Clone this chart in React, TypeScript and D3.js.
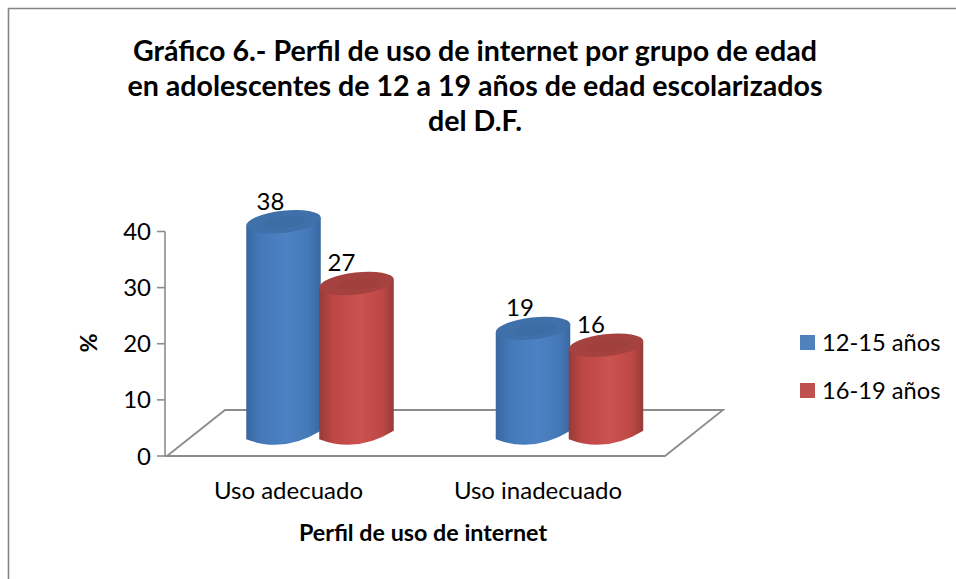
import * as d3 from 'd3';

const categories = ['Uso adecuado', 'Uso inadecuado'];
const seriesNames = ['12-15 años', '16-19 años'];
const values1215 = [38, 19];
const values1619 = [27, 16];
const yTicks = [0, 10, 20, 30, 40];
const titleLines = [
  'Gráfico 6.- Perfil de uso de internet por grupo de edad',
  'en adolescentes de 12 a 19 años de edad escolarizados',
  'del D.F.',
];

const width = 956;
const height = 579;
const font = 'Lato, Carlito, sans-serif';
const axisColor = '#8c8c8c';

const seriesColors = ['#4f81bd', '#c0504d'];
const shades = [
  { edge: '#3a689f', mid: '#4d82c4', cap: '#3f70a9', low: '#4378b8' },
  { edge: '#963b39', mid: '#cc5350', cap: '#a54240', low: '#bd4744' },
];

const y = d3.scaleLinear().domain([0, 40]).range([456, 231.5]);
// bars stand further back on the floor than the axis
const depth = 21;
const yBar = (v: number) => y(v) - depth;

const x0 = d3.scaleBand<string>().domain(categories).range([222, 721]);
const x1 = d3.scaleBand<string>().domain(seriesNames).range([25, 171]);

const floor = d3.line()([
  [167, y(0)],
  [225, y(0) - 46],
  [723, y(0) - 46],
  [665, y(0)],
  [165, y(0)],
]);

const tilt = -6.5;

function cylinderPath(cx: number, rx: number, ry: number, top: number, bottom: number) {
  const a = (tilt * Math.PI) / 180;
  const dx = rx * Math.cos(a);
  const dy = rx * Math.sin(a);
  const p = d3.path();
  p.moveTo(cx - dx, top - dy);
  p.lineTo(cx - dx, bottom - dy);
  p.quadraticCurveTo(cx, bottom + ry * 1.7, cx + dx, bottom + dy);
  p.lineTo(cx + dx, top + dy);
  p.quadraticCurveTo(cx, top + ry * 1.2, cx - dx, top - dy);
  p.closePath();
  return p.toString();
}

function Cylinder({ cx, value, s }: { cx: number; value: number; s: number }) {
  const rx = x1.bandwidth() / 2 + 1;
  const ry = 11;
  const top = yBar(value);
  const bottom = yBar(0);
  const c = shades[s];
  return (
    <g filter="url(#soft)">
      <path d={cylinderPath(cx, rx, ry, top, bottom)} fill={`url(#body${s})`} />
      <ellipse
        cx={cx}
        cy={top}
        rx={rx}
        ry={ry}
        transform={`rotate(${tilt} ${cx} ${top})`}
        fill={c.cap}
      />
      <ellipse
        cx={cx + 2}
        cy={top + 1}
        rx={rx * 0.55}
        ry={ry * 0.5}
        transform={`rotate(${tilt} ${cx} ${top})`}
        fill={c.edge}
        opacity={0.35}
      />
    </g>
  );
}

export default function App() {
  const series = [values1215, values1619];
  const labelOffsets = [-13, -15];

  return (
    <svg
      width={width}
      height={height}
      style={{ position: 'absolute', left: 0, top: 0, display: 'block' }}
      fontFamily={font}
    >
      <defs>
        <filter id="soft" x="-5%" y="-5%" width="110%" height="110%">
          <feGaussianBlur stdDeviation="0.7" />
        </filter>
        {shades.map((c, i) => (
          <linearGradient id={`body${i}`} key={i} x1="0" x2="1" y1="0" y2="0">
            <stop offset="0" stopColor={c.edge} />
            <stop offset="0.18" stopColor={c.low} />
            <stop offset="0.55" stopColor={c.mid} />
            <stop offset="0.85" stopColor={c.low} />
            <stop offset="1" stopColor={c.edge} />
          </linearGradient>
        ))}
      </defs>

      <rect width={width} height={height} fill="#fff" />
      {/* chart area frame, runs off the right and bottom of the picture */}
      <path d={`M8.5 ${height}V8.5H${width}`} fill="none" stroke="#858585" strokeWidth={1.6} />

      {titleLines.map((t, i) => (
        <text
          key={i}
          x={475}
          y={61 + i * 35}
          textAnchor="middle"
          fontSize={28.6}
          fontWeight={700}
          fill="#000"
        >
          {t}
        </text>
      ))}

      {/* floor */}
      <path d={floor ?? ''} fill="none" stroke={axisColor} strokeWidth={1.8} />

      {/* y axis */}
      <line x1={165} x2={165} y1={y(40)} y2={y(0)} stroke={axisColor} strokeWidth={1.6} />
      {yTicks.map((t) => (
        <g key={t}>
          <line x1={157} x2={165} y1={y(t)} y2={y(t)} stroke={axisColor} strokeWidth={1.6} />
          <text x={151} y={y(t) + 8.5} textAnchor="end" fontSize={24} fill="#000">
            {t}
          </text>
        </g>
      ))}

      {/* bars */}
      {categories.map((cat, ci) =>
        seriesNames.map((name, si) => {
          const cx = (x0(cat) ?? 0) + (x1(name) ?? 0) + x1.bandwidth() / 2;
          return <Cylinder key={cat + name} cx={cx} value={series[si][ci]} s={si} />;
        })
      )}
      {categories.map((cat, ci) =>
        seriesNames.map((name, si) => {
          const cx = (x0(cat) ?? 0) + (x1(name) ?? 0) + x1.bandwidth() / 2;
          return (
            <text
              key={cat + name}
              x={cx + labelOffsets[si]}
              y={yBar(series[si][ci]) - 12}
              textAnchor="middle"
              fontSize={24}
              fill="#000"
            >
              {series[si][ci]}
            </text>
          );
        })
      )}

      {/* category labels */}
      {categories.map((cat) => (
        <text
          key={cat}
          x={(x0(cat) ?? 0) + 66.5}
          y={499}
          textAnchor="middle"
          fontSize={24}
          fill="#000"
        >
          {cat}
        </text>
      ))}

      <text x={423} y={541} textAnchor="middle" fontSize={23.3} fontWeight={700} fill="#000">
        Perfil de uso de internet
      </text>
      <text
        transform="translate(97 343) rotate(-90)"
        textAnchor="middle"
        fontSize={23.3}
        fontWeight={700}
        fill="#000"
      >
        %
      </text>

      {/* legend */}
      {seriesNames.map((name, i) => (
        <g key={name} transform={`translate(800 ${335 + i * 48})`}>
          <rect width={15} height={15} fill={seriesColors[i]} />
          <text x={22} y={15.5} fontSize={23.7} fill="#000">
            {name}
          </text>
        </g>
      ))}
    </svg>
  );
}
